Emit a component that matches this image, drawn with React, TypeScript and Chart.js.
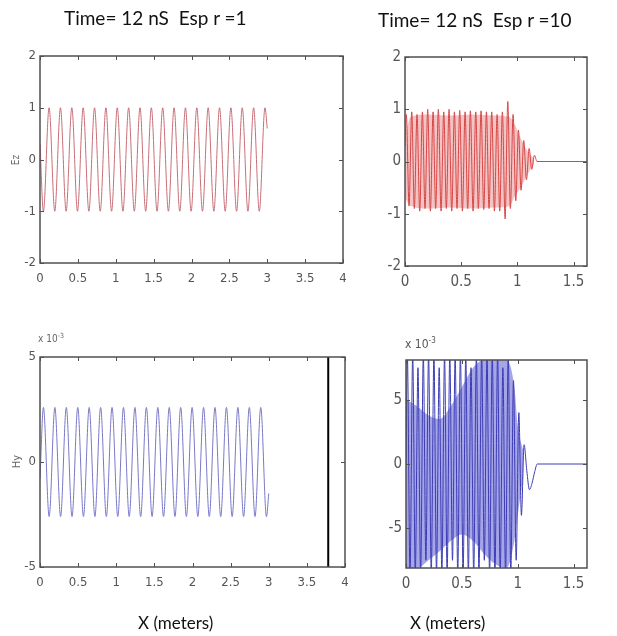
import React, { useEffect, useRef } from "react";
import { Chart, registerables } from "chart.js";

Chart.register(...registerables);

const W = 617;
const H = 636;

// ---------------- tick values ----------------
const xTicksLong = [0, 0.5, 1, 1.5, 2, 2.5, 3, 3.5, 4];
const xTicksShort = [0, 0.5, 1, 1.5];
const yTicksEz = [-2, -1, 0, 1, 2];
const yTicksHy = [-5, 0, 5]; // x 10^-3

// ---------------- εr = 1 (extrema) ----------------
const vacX = [
  0, 0.045, 0.12, 0.195, 0.27, 0.345, 0.42, 0.495, 0.57, 0.645, 0.72, 0.795, 0.87, 0.945,
  1.02, 1.095, 1.17, 1.245, 1.32, 1.395, 1.47, 1.545, 1.62, 1.695, 1.77, 1.845, 1.92, 1.995,
  2.07, 2.145, 2.22, 2.295, 2.37, 2.445, 2.52, 2.595, 2.67, 2.745, 2.82, 2.895, 2.97, 3.0,
];
const ezVacY = [
  0.3, -1, 1, -1, 1, -1, 1, -1, 1, -1, 1, -1, 1, -1,
  1, -1, 1, -1, 1, -1, 1, -1, 1, -1, 1, -1, 1, -1,
  1, -1, 1, -1, 1, -1, 1, -1, 1, -1, 1, -1, 1, 0.6,
];
// Hy in units of 10^-3
const hyVacY = [
  -0.8, 2.6, -2.6, 2.6, -2.6, 2.6, -2.6, 2.6, -2.6, 2.6, -2.6, 2.6, -2.6, 2.6,
  -2.6, 2.6, -2.6, 2.6, -2.6, 2.6, -2.6, 2.6, -2.6, 2.6, -2.6, 2.6, -2.6, 2.6,
  -2.6, 2.6, -2.6, 2.6, -2.6, 2.6, -2.6, 2.6, -2.6, 2.6, -2.6, 2.6, -2.6, -1.5,
];
const hyVacMarkX = [3.78, 3.78];
const hyVacMarkY = [-5, 5];

// ---------------- εr = 10 ----------------
const dielX = [
  0, 0.012, 0.036, 0.06, 0.083, 0.107, 0.131, 0.155, 0.178, 0.202, 0.226, 0.25, 0.273,
  0.297, 0.321, 0.345, 0.368, 0.392, 0.416, 0.44, 0.463, 0.487, 0.511, 0.535, 0.558, 0.582,
  0.606, 0.63, 0.653, 0.677, 0.701, 0.725, 0.748, 0.772, 0.796, 0.82, 0.843, 0.867, 0.891,
  0.915, 0.938, 0.962, 0.986, 1.01, 1.033, 1.057, 1.081, 1.105, 1.128, 1.152, 1.175, 1.62,
];
const ezDielY = [
  0.3, 0.9, -0.85, 0.95, -0.9, 0.9, -0.95, 0.95, -0.9, 1.0, -0.95, 0.95, -0.9,
  1.0, -0.95, 0.95, -0.9, 1.0, -0.95, 0.95, -0.9, 0.98, -0.95, 0.95, -0.9, 0.97,
  -0.95, 0.95, -0.9, 0.97, -0.92, 0.95, -0.9, 0.95, -0.95, 0.9, -0.95, 0.95, -1.1,
  1.15, -0.9, 0.9, -0.75, 0.6, -0.55, 0.4, -0.35, 0.25, -0.15, 0.12, 0, 0,
];
const ezDielEnvX = [0, 0.05, 0.2, 0.4, 0.6, 0.8, 0.93, 0.98, 1.03, 1.09, 1.15];
const ezDielEnvUp = [0.5, 0.85, 0.9, 0.88, 0.9, 0.88, 0.85, 0.7, 0.45, 0.2, 0.05];
const ezDielEnvLo = [-0.7, -0.85, -0.9, -0.88, -0.9, -0.88, -0.85, -0.65, -0.5, -0.25, -0.05];
// Hy in units of 10^-3
const hyDielY = [
  0, 8.5, -8.5, 8.5, -8.5, 7.5, -8.5, 8.5, -7.5, 8.5, -8.5, 8.5, -8.5,
  7.5, -8.5, 8.5, -8.5, 8.5, -7.5, 8.5, -8.5, 8.5, -8.5, 8.5, -8.5, 7.5,
  -8.5, 8.5, -8.5, 8.5, -7.5, 8.5, -8.5, 8.5, -8.5, 8.5, -8.5, 7.5, -8.5,
  8.5, -8.5, 6.5, -7.5, 4, -4, 1.5, -0.5, -2, -1.5, -0.6, 0, 0,
];
const hyDielEnvX = [0, 0.1, 0.2, 0.3, 0.4, 0.5, 0.6, 0.7, 0.8, 0.9, 0.97, 1.0, 1.05];
const hyDielEnvUp = [5, 4.5, 3.8, 3.5, 4.5, 6, 7.5, 8.1, 8.1, 8.1, 6, 3, 1];
const hyDielEnvLo = [-8.1, -8.1, -7.5, -6.8, -6, -5.5, -6, -7, -7.8, -8.1, -6, -4, -1];

// ---------------- helpers ----------------
const pts = (xs: number[], ys: number[]) => xs.map((x, i) => ({ x, y: ys[i] }));

const TICK_FONT = "'Liberation Sans Narrow', 'DejaVu Sans Condensed', 'Arial Narrow', sans-serif";
const Y_AXIS_W = 36;
const X_AXIS_H = 40;

const boxPlugin = {
  id: "matlabBox",
  afterDatasetsDraw(chart: any) {
    const { ctx, chartArea } = chart;
    const { left, top, right, bottom } = chartArea;
    const xs = chart.scales.x;
    const ys = chart.scales.y;
    ctx.save();
    ctx.strokeStyle = "#505050";
    ctx.lineWidth = 1.5;
    ctx.strokeRect(left, top, right - left, bottom - top);
    ctx.lineWidth = 1;
    ctx.beginPath();
    const tl = 4;
    xs.ticks.forEach((t: any) => {
      const px = Math.round(xs.getPixelForValue(t.value)) + 0.5;
      ctx.moveTo(px, bottom);
      ctx.lineTo(px, bottom - tl);
      ctx.moveTo(px, top);
      ctx.lineTo(px, top + tl);
    });
    ys.ticks.forEach((t: any) => {
      const py = Math.round(ys.getPixelForValue(t.value)) + 0.5;
      ctx.moveTo(left, py);
      ctx.lineTo(left + tl, py);
      ctx.moveTo(right, py);
      ctx.lineTo(right - tl, py);
    });
    ctx.stroke();
    ctx.restore();
  },
};

type PanelSpec = {
  area: { l: number; t: number; r: number; b: number };
  xMax: number;
  yMin: number;
  yMax: number;
  xTicks: number[];
  yTicks: number[];
  fontSize: number;
  xPad: number;
  datasets: any[];
};

function makeConfig(p: PanelSpec): any {
  return {
    type: "line",
    data: { datasets: p.datasets },
    plugins: [boxPlugin],
    options: {
      animation: false,
      responsive: false,
      devicePixelRatio: 1,
      events: [],
      layout: {
        padding: {
          left: p.area.l - Y_AXIS_W,
          top: p.area.t,
          right: W - p.area.r,
          bottom: H - p.area.b - X_AXIS_H,
        },
      },
      plugins: {
        legend: { display: false },
        tooltip: { enabled: false },
        title: { display: false },
      },
      elements: { point: { radius: 0 } },
      scales: {
        x: {
          type: "linear",
          min: 0,
          max: p.xMax,
          grid: { display: false, drawTicks: false, tickLength: 0 },
          border: { display: false },
          afterBuildTicks: (s: any) => {
            s.ticks = p.xTicks.map((v) => ({ value: v }));
          },
          afterFit: (s: any) => {
            s.height = X_AXIS_H;
          },
          ticks: {
            autoSkip: false,
            maxRotation: 0,
            padding: p.xPad,
            color: "#555",
            font: { family: TICK_FONT, size: p.fontSize },
            callback: (v: any) => String(v),
          },
        },
        y: {
          type: "linear",
          min: p.yMin,
          max: p.yMax,
          grid: { display: false, drawTicks: false, tickLength: 0 },
          border: { display: false },
          afterBuildTicks: (s: any) => {
            s.ticks = p.yTicks.map((v) => ({ value: v }));
          },
          afterFit: (s: any) => {
            s.width = Y_AXIS_W;
          },
          ticks: {
            autoSkip: false,
            padding: 4,
            color: "#555",
            font: { family: TICK_FONT, size: p.fontSize },
            callback: (v: any) => String(v),
          },
        },
      },
    },
  };
}

const lineDs = (data: any[], color: string, width = 1) => ({
  data,
  borderColor: color,
  borderWidth: width,
  cubicInterpolationMode: "monotone",
  fill: false,
  pointRadius: 0,
});

const bandDs = (xs: number[], up: number[], lo: number[], color: string) => [
  {
    data: pts(xs, up),
    borderColor: "rgba(0,0,0,0)",
    borderWidth: 0,
    pointRadius: 0,
    fill: false,
    cubicInterpolationMode: "monotone",
  },
  {
    data: pts(xs, lo),
    borderColor: "rgba(0,0,0,0)",
    borderWidth: 0,
    pointRadius: 0,
    fill: "-1",
    backgroundColor: color,
    cubicInterpolationMode: "monotone",
  },
];

const panels: PanelSpec[] = [
  {
    area: { l: 40, t: 56, r: 343, b: 263 },
    xMax: 4,
    yMin: -2,
    yMax: 2,
    xTicks: xTicksLong,
    yTicks: yTicksEz,
    fontSize: 13,
    xPad: 8,
    datasets: [lineDs(pts(vacX, ezVacY), "rgb(200,110,118)")],
  },
  {
    area: { l: 405, t: 57, r: 587, b: 266 },
    xMax: 1.62,
    yMin: -2,
    yMax: 2,
    xTicks: xTicksShort,
    yTicks: yTicksEz,
    fontSize: 15,
    xPad: 7,
    datasets: [
      lineDs(pts(dielX, ezDielY), "rgb(215,70,70)"),
      ...bandDs(ezDielEnvX, ezDielEnvUp, ezDielEnvLo, "rgb(244,196,196)"),
    ],
  },
  {
    area: { l: 40, t: 357, r: 345, b: 567 },
    xMax: 4,
    yMin: -5,
    yMax: 5,
    xTicks: xTicksLong,
    yTicks: yTicksHy,
    fontSize: 13,
    xPad: 8,
    datasets: [
      lineDs(pts(hyVacMarkX, hyVacMarkY), "#000", 2),
      lineDs(pts(vacX, hyVacY), "rgb(120,120,200)"),
    ],
  },
  {
    area: { l: 406, t: 360, r: 587, b: 568 },
    xMax: 1.62,
    yMin: -8.1,
    yMax: 8.1,
    xTicks: xTicksShort,
    yTicks: yTicksHy,
    fontSize: 15,
    xPad: 7,
    datasets: [
      lineDs(pts(dielX, hyDielY), "rgb(60,60,180)"),
      ...bandDs(hyDielEnvX, hyDielEnvUp, hyDielEnvLo, "rgb(165,165,232)"),
    ],
  },
];

function ChartPanel({ spec }: { spec: PanelSpec }) {
  const ref = useRef<HTMLCanvasElement>(null);
  useEffect(() => {
    const chart = new Chart(ref.current as HTMLCanvasElement, makeConfig(spec));
    return () => chart.destroy();
  }, []);
  return (
    <canvas
      ref={ref}
      width={W}
      height={H}
      style={{ position: "absolute", left: 0, top: 0, width: W, height: H }}
    />
  );
}

const txt = (extra: React.CSSProperties): React.CSSProperties => ({
  position: "absolute",
  whiteSpace: "nowrap",
  fontFamily: "Lato, 'Open Sans', sans-serif",
  color: "#111",
  lineHeight: 1,
  ...extra,
});

export default function App() {
  return (
    <div
      style={{
        position: "fixed",
        left: 0,
        top: 0,
        width: W,
        height: H,
        background: "#fff",
        overflow: "hidden",
      }}
    >
      {panels.map((p, i) => (
        <ChartPanel key={i} spec={p} />
      ))}
      <div style={txt({ left: 64, top: 8, fontSize: 19 })}>Time= 12 nS&nbsp; Esp r =1</div>
      <div style={txt({ left: 378, top: 10, fontSize: 19 })}>Time= 12 nS&nbsp; Esp r =10</div>
      <div
        style={txt({
          left: 11,
          top: 155,
          fontSize: 10,
          color: "#666",
          fontFamily: TICK_FONT,
          transform: "rotate(-90deg)",
        })}
      >
        Ez
      </div>
      <div
        style={txt({
          left: 10,
          top: 456,
          fontSize: 11,
          color: "#666",
          fontFamily: TICK_FONT,
          transform: "rotate(-90deg)",
        })}
      >
        Hy
      </div>
      <div style={txt({ left: 38, top: 333, fontSize: 10, color: "#666", fontFamily: TICK_FONT })}>
        x 10<sup style={{ fontSize: 7 }}>-3</sup>
      </div>
      <div style={txt({ left: 405, top: 337, fontSize: 12, color: "#555", fontFamily: TICK_FONT })}>
        x 10<sup style={{ fontSize: 8 }}>-3</sup>
      </div>
      <div style={txt({ left: 138, top: 614, fontSize: 17 })}>X (meters)</div>
      <div style={txt({ left: 410, top: 614, fontSize: 17 })}>X (meters)</div>
    </div>
  );
}
